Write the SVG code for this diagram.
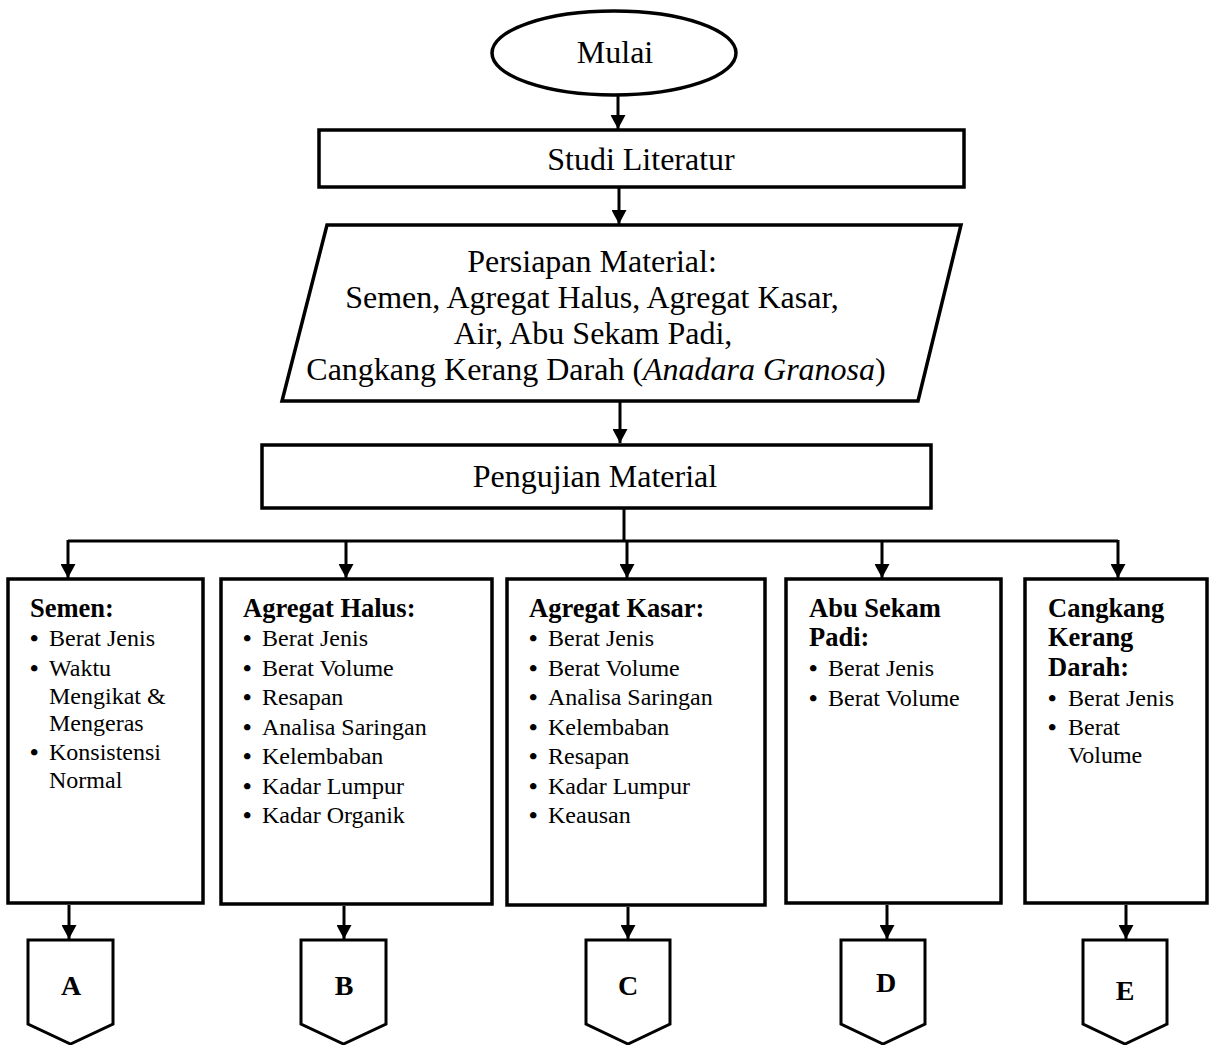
<svg xmlns="http://www.w3.org/2000/svg" width="1209" height="1045" viewBox="0 0 1209 1045">
<defs>
<style>
.shape{fill:#fff;stroke:#000;stroke-width:3.5}
.small{fill:#fff;stroke:#000;stroke-width:3}
.conn{fill:none;stroke:#000;stroke-width:3}
.main{font-family:"Liberation Serif","Times New Roman",serif;font-size:32px;fill:#000}
.ttl{font-family:"Liberation Serif","Times New Roman",serif;font-size:26.5px;font-weight:bold;fill:#000}
.item{font-family:"Liberation Serif","Times New Roman",serif;font-size:24px;fill:#000}
.bul{font-weight:bold}
.lbl{font-family:"Liberation Serif","Times New Roman",serif;font-size:28px;font-weight:bold;fill:#000}
</style>
<marker id="ah" markerUnits="userSpaceOnUse" markerWidth="15" markerHeight="15" refX="14" refY="7.5" orient="auto">
<path d="M0,0 L14,7.5 L0,15 Z" fill="#000"/>
</marker>
</defs>
<rect width="1209" height="1045" fill="#fff"/>

<g id="connectors">
<line class="conn" x1="618" y1="95" x2="618" y2="129" marker-end="url(#ah)"/>
<line class="conn" x1="619" y1="188" x2="619" y2="224" marker-end="url(#ah)"/>
<line class="conn" x1="620" y1="402" x2="620" y2="443" marker-end="url(#ah)"/>
<polyline class="conn" points="624,509 624,541"/>
<polyline class="conn" points="68,541 1118,541"/>
<line class="conn" x1="68" y1="540" x2="68" y2="578" marker-end="url(#ah)"/>
<line class="conn" x1="346" y1="540" x2="346" y2="578" marker-end="url(#ah)"/>
<line class="conn" x1="627" y1="540" x2="627" y2="578" marker-end="url(#ah)"/>
<line class="conn" x1="882" y1="540" x2="882" y2="578" marker-end="url(#ah)"/>
<line class="conn" x1="1118" y1="540" x2="1118" y2="578" marker-end="url(#ah)"/>
<line class="conn" x1="69" y1="905" x2="69" y2="939" marker-end="url(#ah)"/>
<line class="conn" x1="344" y1="906" x2="344" y2="939" marker-end="url(#ah)"/>
<line class="conn" x1="628" y1="907" x2="628" y2="939" marker-end="url(#ah)"/>
<line class="conn" x1="887" y1="905" x2="887" y2="939" marker-end="url(#ah)"/>
<line class="conn" x1="1126" y1="905" x2="1126" y2="939" marker-end="url(#ah)"/>
</g>

<g id="mulai">
<ellipse class="shape" cx="614" cy="53" rx="122" ry="42"/>
<text class="main" x="615" y="63" text-anchor="middle">Mulai</text>
</g>

<g id="studi-literatur">
<rect class="shape" x="319" y="130" width="645" height="57"/>
<text class="main" x="641" y="170" text-anchor="middle">Studi Literatur</text>
</g>

<g id="persiapan-material">
<polygon class="shape" points="327,225 961,225 918,401 282,401"/>
<text class="main" text-anchor="middle">
<tspan x="596" y="272">Persiapan Material:</tspan>
<tspan x="596" y="308">Semen, Agregat Halus, Agregat Kasar,</tspan>
<tspan x="597" y="344">Air, Abu Sekam Padi,</tspan>
<tspan x="596" y="380">Cangkang Kerang Darah (<tspan font-style="italic">Anadara Granosa</tspan>)</tspan>
</text>
</g>

<g id="pengujian-material">
<rect class="shape" x="262" y="445" width="669" height="63"/>
<text class="main" x="595" y="487" text-anchor="middle">Pengujian Material</text>
</g>

<g id="semen">
<rect class="shape" x="8" y="579" width="195" height="324"/>
<text class="ttl" x="30" y="617">Semen:</text>
<text class="item" y="646"><tspan class="bul" x="30">•</tspan><tspan x="49">Berat Jenis</tspan></text>
<text class="item" y="676"><tspan class="bul" x="30">•</tspan><tspan x="49">Waktu</tspan></text>
<text class="item" x="49" y="703.5">Mengikat &amp;</text>
<text class="item" x="49" y="731">Mengeras</text>
<text class="item" y="760"><tspan class="bul" x="30">•</tspan><tspan x="49">Konsistensi</tspan></text>
<text class="item" x="49" y="787.5">Normal</text>
</g>

<g id="agregat-halus">
<rect class="shape" x="221" y="579" width="271" height="325"/>
<text class="ttl" x="243" y="617">Agregat Halus:</text>
<text class="item" y="646"><tspan class="bul" x="243">•</tspan><tspan x="262">Berat Jenis</tspan></text>
<text class="item" y="675.5"><tspan class="bul" x="243">•</tspan><tspan x="262">Berat Volume</tspan></text>
<text class="item" y="705"><tspan class="bul" x="243">•</tspan><tspan x="262">Resapan</tspan></text>
<text class="item" y="734.5"><tspan class="bul" x="243">•</tspan><tspan x="262">Analisa Saringan</tspan></text>
<text class="item" y="764"><tspan class="bul" x="243">•</tspan><tspan x="262">Kelembaban</tspan></text>
<text class="item" y="793.5"><tspan class="bul" x="243">•</tspan><tspan x="262">Kadar Lumpur</tspan></text>
<text class="item" y="823"><tspan class="bul" x="243">•</tspan><tspan x="262">Kadar Organik</tspan></text>
</g>

<g id="agregat-kasar">
<rect class="shape" x="507" y="579" width="258" height="326"/>
<text class="ttl" x="529" y="617">Agregat Kasar:</text>
<text class="item" y="646"><tspan class="bul" x="529">•</tspan><tspan x="548">Berat Jenis</tspan></text>
<text class="item" y="675.5"><tspan class="bul" x="529">•</tspan><tspan x="548">Berat Volume</tspan></text>
<text class="item" y="705"><tspan class="bul" x="529">•</tspan><tspan x="548">Analisa Saringan</tspan></text>
<text class="item" y="734.5"><tspan class="bul" x="529">•</tspan><tspan x="548">Kelembaban</tspan></text>
<text class="item" y="764"><tspan class="bul" x="529">•</tspan><tspan x="548">Resapan</tspan></text>
<text class="item" y="793.5"><tspan class="bul" x="529">•</tspan><tspan x="548">Kadar Lumpur</tspan></text>
<text class="item" y="823"><tspan class="bul" x="529">•</tspan><tspan x="548">Keausan</tspan></text>
</g>

<g id="abu-sekam-padi">
<rect class="shape" x="786" y="579" width="215" height="324"/>
<text class="ttl" x="809" y="617">Abu Sekam</text>
<text class="ttl" x="809" y="646">Padi:</text>
<text class="item" y="676"><tspan class="bul" x="809">•</tspan><tspan x="828">Berat Jenis</tspan></text>
<text class="item" y="705.5"><tspan class="bul" x="809">•</tspan><tspan x="828">Berat Volume</tspan></text>
</g>

<g id="cangkang-kerang-darah">
<rect class="shape" x="1025" y="579" width="182" height="324"/>
<text class="ttl" x="1048" y="617">Cangkang</text>
<text class="ttl" x="1048" y="646">Kerang</text>
<text class="ttl" x="1048" y="676">Darah:</text>
<text class="item" y="705.5"><tspan class="bul" x="1048">•</tspan><tspan x="1068">Berat Jenis</tspan></text>
<text class="item" y="735"><tspan class="bul" x="1048">•</tspan><tspan x="1068">Berat</tspan></text>
<text class="item" x="1068" y="762.5">Volume</text>
</g>

<g id="off-A">
<path class="small" d="M28,940 H113 V1024 L70.5,1044 L28,1024 Z"/>
<text class="lbl" x="71" y="995" text-anchor="middle">A</text>
</g>
<g id="off-B">
<path class="small" d="M301,940 H386 V1024 L343.5,1044 L301,1024 Z"/>
<text class="lbl" x="344" y="995" text-anchor="middle">B</text>
</g>
<g id="off-C">
<path class="small" d="M586,940 H670 V1024 L628,1044 L586,1024 Z"/>
<text class="lbl" x="628" y="995" text-anchor="middle">C</text>
</g>
<g id="off-D">
<path class="small" d="M841,940 H925 V1024 L883,1044 L841,1024 Z"/>
<text class="lbl" x="886" y="992" text-anchor="middle">D</text>
</g>
<g id="off-E">
<path class="small" d="M1083,940 H1167 V1024 L1125,1044 L1083,1024 Z"/>
<text class="lbl" x="1125" y="1000" text-anchor="middle">E</text>
</g>
</svg>
